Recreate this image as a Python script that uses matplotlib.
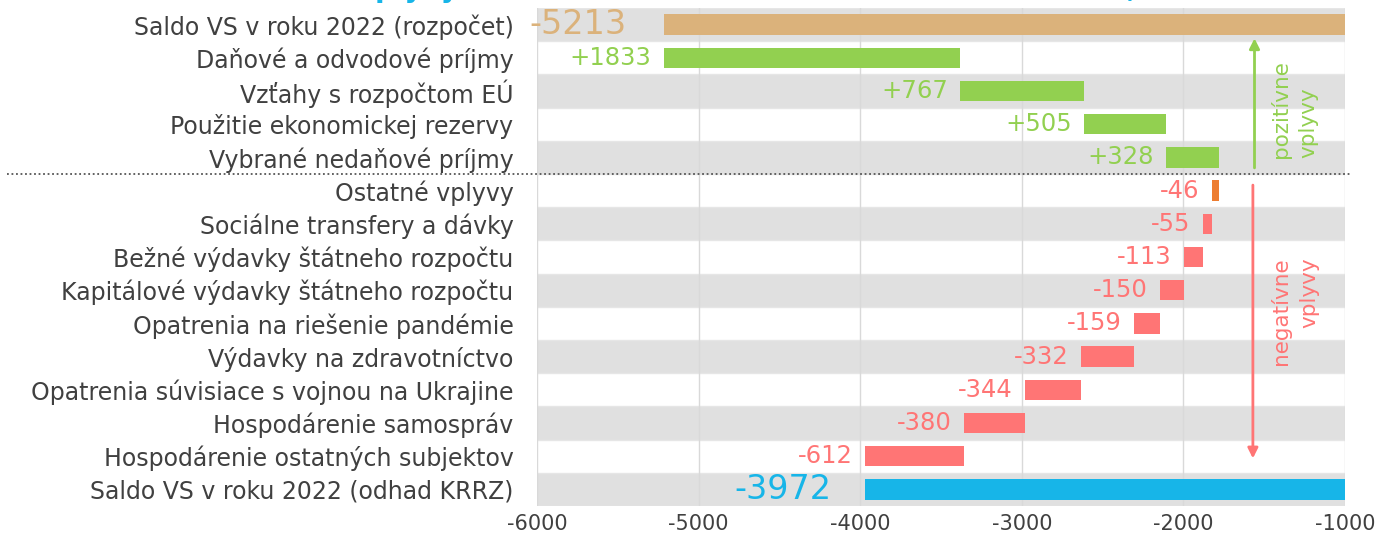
import matplotlib
matplotlib.use("Agg")
import matplotlib.pyplot as plt
import numpy as np

categories = [
    "Saldo VS v roku 2022 (rozpočet)",
    "Daňové a odvodové príjmy",
    "Vzťahy s rozpočtom EÚ",
    "Použitie ekonomickej rezervy",
    "Vybrané nedaňové príjmy",
    "Ostatné vplyvy",
    "Sociálne transfery a dávky",
    "Bežné výdavky štátneho rozpočtu",
    "Kapitálové výdavky štátneho rozpočtu",
    "Opatrenia na riešenie pandémie",
    "Výdavky na zdravotníctvo",
    "Opatrenia súvisiace s vojnou na Ukrajine",
    "Hospodárenie samospráv",
    "Hospodárenie ostatných subjektov",
    "Saldo VS v roku 2022 (odhad KRRZ)",
]
start_value = -5213
changes = [1833, 767, 505, 328, -46, -55, -113, -150, -159, -332, -344, -380, -612]
end_value = -3972
x_ticks = [-6000, -5000, -4000, -3000, -2000, -1000]

C_START = "#DBB27B"
C_POS = "#92D050"
C_NEG = "#FF7575"
C_ORANGE = "#ED7D31"
C_END = "#17B5E8"
C_TEXT = "#404040"
FONT = ["DejaVu Sans"]
plt.rcParams["font.family"] = FONT

fig = plt.figure(figsize=(13.77, 5.46), dpi=100)
ax = fig.add_axes([537 / 1377, 40 / 546, 808 / 1377, 498 / 546])
xmin, xmax = -6000, -1000
ax.set_xlim(xmin, xmax)
n = len(categories)
ax.set_ylim(n - 0.5, -0.5)

# background bands
for i in range(n):
    col = "#E0E0E0" if i % 2 == 0 else "white"
    ax.axhspan(i - 0.5, i + 0.5, color=col, zorder=0, lw=0)
for i in range(n + 1):
    ax.axhline(i - 0.5, color="#E6E6E6", lw=1, zorder=0.5)
for t in x_ticks:
    ax.axvline(t, color="#D9D9D9", lw=1, zorder=0.6)

bh = 0.62
# start bar
ax.barh(0, 0 - start_value, left=start_value, height=bh, color=C_START, zorder=2)
ax.annotate(f"{start_value}", (start_value, 0), xytext=(-27, 0),
            textcoords="offset points", ha="right", va="center",
            color=C_START, fontsize=24, zorder=3)

cur = start_value
for k, ch in enumerate(changes):
    i = k + 1
    new = cur + ch
    left = min(cur, new)
    if ch > 0:
        col = C_POS
        tcol = C_POS
        lab = f"+{ch}"
    else:
        col = C_ORANGE if i == 5 else C_NEG
        tcol = C_NEG
        lab = f"{ch}"
    ax.barh(i, abs(ch), left=left, height=bh, color=col, zorder=2)
    ax.annotate(lab, (left, i), xytext=(-9, 0), textcoords="offset points",
                ha="right", va="center", color=tcol, fontsize=17.5, zorder=3)
    cur = new

ax.barh(n - 1, 0 - end_value, left=end_value, height=bh, color=C_END, zorder=2)
ax.annotate(f"{end_value}", (end_value, n - 1), xytext=(-24, 0),
            textcoords="offset points", ha="right", va="center",
            color=C_END, fontsize=24, zorder=3)

# dotted separator
ax.plot([-9280, xmax + 30], [4.5, 4.5], ls=(0, (1, 1.5)), color="#555555", lw=1.3,
        clip_on=False, zorder=4)

# arrows
ax.annotate("", xy=(-1560, 0.33), xytext=(-1560, 4.4),
            arrowprops=dict(arrowstyle="-|>", color=C_POS, lw=2, mutation_scale=15),
            zorder=4)
ax.annotate("", xy=(-1570, 13.15), xytext=(-1570, 4.75),
            arrowprops=dict(arrowstyle="-|>", color=C_NEG, lw=2, mutation_scale=15),
            zorder=4)
rot_kw = dict(rotation=90, rotation_mode="anchor", va="center", fontsize=15.5, zorder=4)
ax.text(-1402, 4.02, "pozitívne", ha="left", color=C_POS, **rot_kw)
ax.text(-1229, 4.02, "vplyvy", ha="left", color=C_POS, **rot_kw)
ax.text(-1402, 7.0, "negatívne", ha="right", color=C_NEG, **rot_kw)
ax.text(-1220, 7.0, "vplyvy", ha="right", color=C_NEG, **rot_kw)

ax.set_yticks(range(n))
ax.set_yticklabels(categories, fontsize=17, color=C_TEXT)
ax.set_xticks(x_ticks)
ax.set_xticklabels([str(t) for t in x_ticks], fontsize=15, color=C_TEXT)
ax.tick_params(axis="both", length=0)
ax.tick_params(axis="y", pad=17)
ax.tick_params(axis="x", pad=6)
for s in ax.spines.values():
    s.set_visible(False)

fig.text(0.53, 1.006, "Hlavné vplyvy na zmenu salda VS v roku 2022 (v mil. eur, ESA)",
         ha="center", va="baseline", color=C_END, fontsize=20, fontweight="bold")

fig.savefig("out.png", dpi=100)
